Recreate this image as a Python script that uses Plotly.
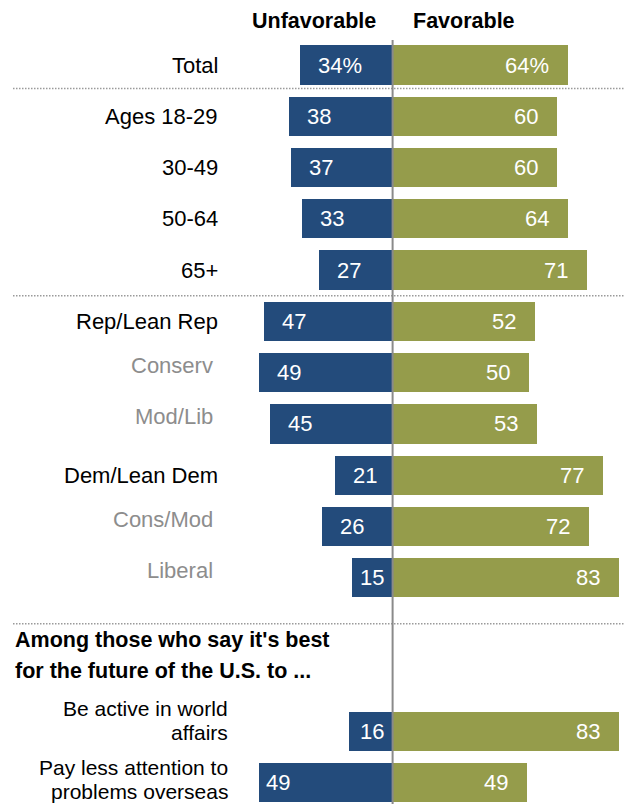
import plotly.graph_objects as go

# Survey responses (percent)
categories = [
    "Total",
    "Ages 18-29", "30-49", "50-64", "65+",
    "Rep/Lean Rep", "Conserv", "Mod/Lib",
    "Dem/Lean Dem", "Cons/Mod", "Liberal",
    "Be active in world<br>affairs",
    "Pay less attention to<br>problems overseas",
]
unfavorable = [34, 38, 37, 33, 27, 47, 49, 45, 21, 26, 15, 16, 49]
favorable = [64, 60, 60, 64, 71, 52, 50, 53, 77, 72, 83, 83, 49]
subgroups = ["Conserv", "Mod/Lib", "Cons/Mod", "Liberal"]
heading_lines = ["Among those who say it's best", "for the future of the U.S. to ..."]

# ---- styling ----
W, H = 625, 804
BLUE = "#234b7b"
OLIVE = "#959c4b"
GRAY_TXT = "#8d8d8d"
FONT = "Liberation Sans, Arial, sans-serif"
PX_PER_UNIT = 2.733
ZERO_PX = 392.6
ROW_PX = 51.27
FIRST_ROW_PX = 65.0

# row positions: a two-row gap holds the heading before the last block
ypos = list(range(11)) + [13, 14]

x_range = [-ZERO_PX / PX_PER_UNIT, (W - ZERO_PX) / PX_PER_UNIT]
y_range = [(H - FIRST_ROW_PX) / ROW_PX, -FIRST_ROW_PX / ROW_PX]

fig = go.Figure()
fig.add_trace(go.Bar(
    y=ypos, x=[-v for v in unfavorable], orientation="h", name="Unfavorable",
    marker=dict(color=BLUE, line=dict(width=0)), width=0.767, hoverinfo="skip",
))
fig.add_trace(go.Bar(
    y=ypos, x=favorable, orientation="h", name="Favorable",
    marker=dict(color=OLIVE, line=dict(width=0)), width=0.767, hoverinfo="skip",
))

ann = []
num_font = dict(family=FONT, size=22, color="white")
for i, (cat, u, f, y) in enumerate(zip(categories, unfavorable, favorable, ypos)):
    suffix = "%" if i == 0 else ""
    # unfavorable value, inside the bar near its outer end
    if u * PX_PER_UNIT < 50:
        ann.append(dict(x=0, y=y, xref="x", yref="y", text=f"{u}{suffix}",
                        xanchor="right", yanchor="middle", xshift=-6.5,
                        showarrow=False, font=num_font))
    else:
        pad = 5 if i == len(categories) - 1 else 16
        ann.append(dict(x=-u, y=y, xref="x", yref="y", text=f"{u}{suffix}",
                        xanchor="left", yanchor="middle", xshift=pad,
                        showarrow=False, font=num_font))
    # favorable value, right-aligned inside the bar
    ann.append(dict(x=f, y=y, xref="x", yref="y", text=f"{f}{suffix}",
                    xanchor="right", yanchor="middle", xshift=-17,
                    showarrow=False, font=num_font))

    # category label
    lines = cat.split("<br>")
    if len(lines) == 1:
        sub = cat in subgroups
        ann.append(dict(x=(215 if sub else 220) / W, y=y, xref="paper", yref="y",
                        text=cat, xanchor="right", yanchor="middle",
                        yshift=7 if sub else 0, showarrow=False,
                        font=dict(family=FONT, size=22,
                                  color=GRAY_TXT if sub else "black")))
    else:
        shifts = (23, -1) if i == len(categories) - 2 else (15, -9)
        for line, ys in zip(lines, shifts):
            ann.append(dict(x=230 / W, y=y, xref="paper", yref="y", text=line,
                            xanchor="right", yanchor="middle", yshift=ys,
                            showarrow=False,
                            font=dict(family=FONT, size=21, color="black")))

# column headers
hdr_font = dict(family=FONT, size=21.5, color="black")
ann.append(dict(x=378 / W, y=1 - 20.7 / H, xref="paper", yref="paper",
                text="<b>Unfavorable</b>", xanchor="right", yanchor="middle",
                showarrow=False, font=hdr_font))
ann.append(dict(x=410.7 / W, y=1 - 20.7 / H, xref="paper", yref="paper",
                text="<b>Favorable</b>", xanchor="left", yanchor="middle",
                showarrow=False, font=hdr_font))

# section heading
for line, yrow in zip(heading_lines, [11.215, 11.82]):
    ann.append(dict(x=13.3 / W, y=yrow, xref="paper", yref="y",
                    text=f"<b>{line}</b>", xanchor="left", yanchor="middle",
                    showarrow=False, font=hdr_font))

shapes = []
# dotted separators between groups
for yrow in [0.46, 4.5, 10.9]:
    shapes.append(dict(type="line", xref="paper", yref="y", x0=13 / W, x1=1,
                       y0=yrow, y1=yrow,
                       line=dict(color="#9a9a9a", width=1.5, dash="1.5px,1.5px")))
# zero line
shapes.append(dict(type="line", xref="x", yref="paper", x0=0, x1=0,
                   y0=0, y1=1 - 40 / H, layer="above",
                   line=dict(color="#8a8a8a", width=2)))

fig.update_layout(
    width=W, height=H,
    margin=dict(l=0, r=0, t=0, b=0),
    paper_bgcolor="white", plot_bgcolor="white",
    barmode="relative", bargap=0,
    showlegend=False,
    xaxis=dict(range=x_range, visible=False, fixedrange=True),
    yaxis=dict(range=y_range, visible=False, fixedrange=True),
    annotations=ann, shapes=shapes,
)

fig.write_html("out.html", config={"displayModeBar": False})
